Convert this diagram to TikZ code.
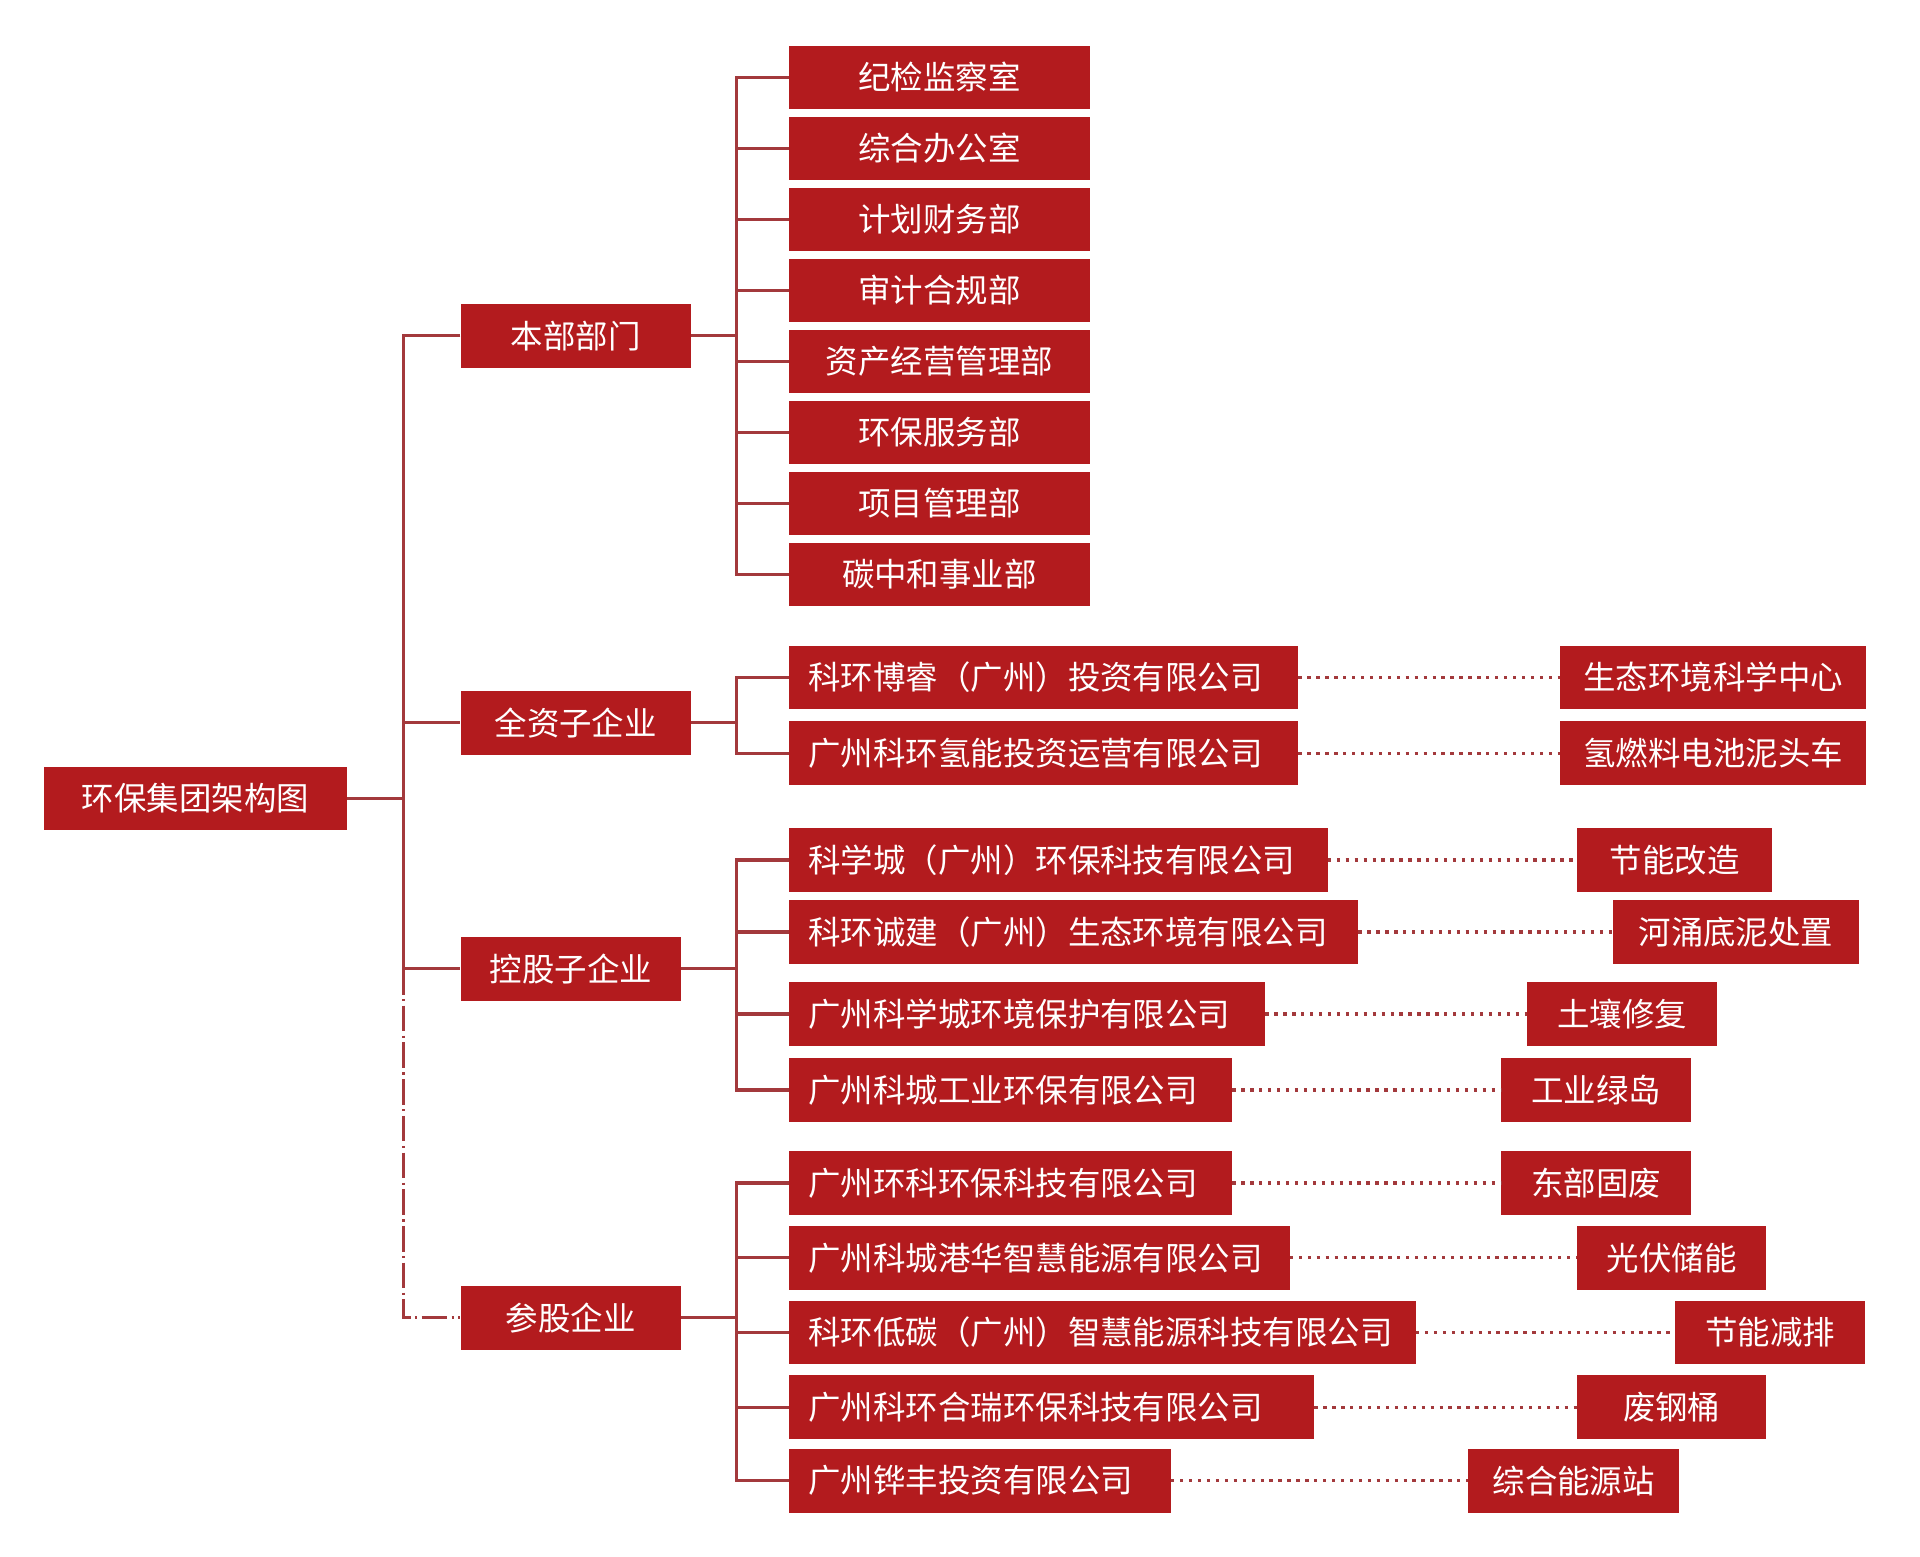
\documentclass[tikz,border=0pt]{standalone}
\usepackage{fontspec}
\setmainfont{Noto Sans CJK SC}
\definecolor{boxred}{HTML}{B31B1E}
\definecolor{linered}{HTML}{A3393C}
\tikzset{
  base/.style={fill=boxred, text=white, inner ysep=0pt, font=\fontsize{26.5pt}{30pt}\selectfont, minimum height=52pt, anchor=north west},
  cbox/.style={base, inner xsep=16pt, align=left},
  mbox/.style={base, inner xsep=0pt, align=center},
  ln/.style={draw=linered, line width=2.7pt, line join=miter},
  dotln/.style={draw=linered, line width=2.7pt, dash pattern=on 2.7pt off 4.6pt},
  dashdotln/.style={draw=linered, line width=2.6pt, dash pattern=on 21pt off 3.5pt on 2pt off 3.5pt},
}
\begin{document}
\begin{tikzpicture}[x=1pt,y=-1pt]
\useasboundingbox (0,0) rectangle (1568,1271.5);
% root
\node[mbox, minimum width=247pt] (root) at (36,626) {环保集团架构图};
% level 1
\node[mbox, minimum width=188pt] (l1) at (376,248) {本部部门};
\node[mbox, minimum width=188pt] (l2) at (376,564) {全资子企业};
\node[mbox, minimum width=180pt] (l3) at (376,765) {控股子企业};
\node[mbox, minimum width=180pt] (l4) at (376,1050) {参股企业};
% departments
\node[mbox, minimum width=246pt] (d1) at (644,37) {纪检监察室};
\node[mbox, minimum width=246pt] (d2) at (644,95) {综合办公室};
\node[mbox, minimum width=246pt] (d3) at (644,153) {计划财务部};
\node[mbox, minimum width=246pt] (d4) at (644,211) {审计合规部};
\node[mbox, minimum width=246pt] (d5) at (644,269) {资产经营管理部};
\node[mbox, minimum width=246pt] (d6) at (644,327) {环保服务部};
\node[mbox, minimum width=246pt] (d7) at (644,385) {项目管理部};
\node[mbox, minimum width=246pt] (d8) at (644,443) {碳中和事业部};
% wholly owned
\node[cbox, text width=384pt] (a1) at (644,527) {科环博睿（广州）投资有限公司};
\node[cbox, text width=384pt] (a2) at (644,589) {广州科环氢能投资运营有限公司};
\node[mbox, minimum width=250pt] (ra1) at (1274,527) {生态环境科学中心};
\node[mbox, minimum width=250pt] (ra2) at (1274,589) {氢燃料电池泥头车};
% holding
\node[cbox, text width=408pt] (b1) at (644,676) {科学城（广州）环保科技有限公司};
\node[cbox, text width=433pt] (b2) at (644,735) {科环诚建（广州）生态环境有限公司};
\node[cbox, text width=357pt] (b3) at (644,802) {广州科学城环境保护有限公司};
\node[cbox, text width=330pt] (b4) at (644,864) {广州科城工业环保有限公司};
\node[mbox, minimum width=159pt] (rb1) at (1288,676) {节能改造};
\node[mbox, minimum width=201pt] (rb2) at (1317,735) {河涌底泥处置};
\node[mbox, minimum width=155pt] (rb3) at (1247,802) {土壤修复};
\node[mbox, minimum width=155pt] (rb4) at (1226,864) {工业绿岛};
% participating
\node[cbox, text width=330pt] (c1) at (644,940) {广州环科环保科技有限公司};
\node[cbox, text width=377pt] (c2) at (644,1001) {广州科城港华智慧能源有限公司};
\node[cbox, text width=480pt] (c3) at (644,1062) {科环低碳（广州）智慧能源科技有限公司};
\node[cbox, text width=397pt] (c4) at (644,1123) {广州科环合瑞环保科技有限公司};
\node[cbox, text width=280pt] (c5) at (644,1183) {广州铧丰投资有限公司};
\node[mbox, minimum width=155pt] (rc1) at (1226,940) {东部固废};
\node[mbox, minimum width=154pt] (rc2) at (1288,1001) {光伏储能};
\node[mbox, minimum width=155pt] (rc3) at (1368,1062) {节能减排};
\node[mbox, minimum width=154pt] (rc4) at (1288,1123) {废钢桶};
\node[mbox, minimum width=172pt] (rc5) at (1199,1183) {综合能源站};

% trunk
\draw[ln] (root.east) -- ++(46,0) coordinate (tr);
\draw[ln] (l1.west) -| (tr) |- (l3.west);
\draw[ln] (tr |- l2.west) -- (l2.west);
\draw[dashdotln] (tr |- l3.west) -- (tr |- l4.west) -- (l4.west);

% departments
\draw[ln] (l1.east) -- ++(37,0) coordinate (j1);
\draw[ln] (d1.west) -| (j1) |- (d8.west);
\foreach \n in {d2,d3,d4,d5,d6,d7} \draw[ln] (j1 |- \n.west) -- (\n.west);

% wholly owned
\draw[ln] (l2.east) -- ++(37,0) coordinate (j2);
\draw[ln] (a1.west) -| (j2) |- (a2.west);

% holding
\draw[ln] (l3.east) -- ++(45,0) coordinate (j3);
\draw[ln] (b1.west) -| (j3) |- (b4.west);
\foreach \n in {b2,b3} \draw[ln] (j3 |- \n.west) -- (\n.west);

% participating
\draw[ln] (l4.east) -- ++(45,0) coordinate (j4);
\draw[ln] (c1.west) -| (j4) |- (c5.west);
\foreach \n in {c2,c3,c4} \draw[ln] (j4 |- \n.west) -- (\n.west);

% dotted links
\draw[dotln] (a1.east) -- (ra1.west);
\draw[dotln] (a2.east) -- (ra2.west);
\draw[dotln] (b1.east) -- (rb1.west);
\draw[dotln] (b2.east) -- (rb2.west);
\draw[dotln] (b3.east) -- (rb3.west);
\draw[dotln] (b4.east) -- (rb4.west);
\draw[dotln] (c1.east) -- (rc1.west);
\draw[dotln] (c2.east) -- (rc2.west);
\draw[dotln] (c3.east) -- (rc3.west);
\draw[dotln] (c4.east) -- (rc4.west);
\draw[dotln] (c5.east) -- (rc5.west);
\end{tikzpicture}
\end{document}
